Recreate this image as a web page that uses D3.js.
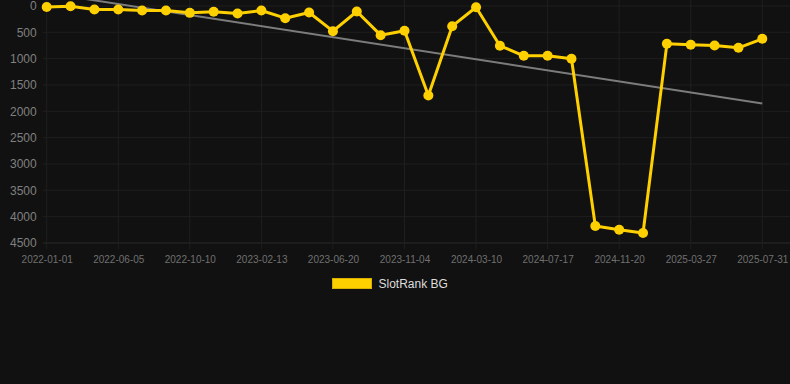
<!DOCTYPE html>
<html>
<head>
<meta charset="utf-8">
<script src="https://cdn.jsdelivr.net/npm/d3@7"></script>
<style>
    html, body { margin: 0; padding: 0; background: #111111; }
</style>
</head>
<body>
<script>
// Data
var dates = ["2022-01-01", "2022-02-21", "2022-04-14", "2022-06-05", "2022-07-17", "2022-08-28",
    "2022-10-10", "2022-11-21", "2023-01-02", "2023-02-13", "2023-03-31", "2023-05-05",
    "2023-06-20", "2023-08-04", "2023-09-19", "2023-11-04", "2023-12-19", "2024-01-24",
    "2024-03-10", "2024-04-21", "2024-06-04", "2024-07-17", "2024-08-28", "2024-10-09",
    "2024-11-20", "2025-01-01", "2025-02-13", "2025-03-27", "2025-05-07", "2025-06-19",
    "2025-07-31"];
var ranks = [20, 5, 66, 66, 85, 85, 130, 110, 142, 85, 231, 123, 478, 104, 554, 471,
    1698, 383, 23, 755, 945, 945, 1002, 4178, 4247, 4311, 718, 737, 750, 794, 623];
var yTicks = [0, 500, 1000, 1500, 2000, 2500, 3000, 3500, 4000, 4500];
var seriesName = "SlotRank BG";

// General Settings
var width = 790, height = 384,
plot = {left: 46.7, right: 762.3, top: 6, bottom: 243},
font = {family: "Arial, 'Liberation Sans', sans-serif"},
col = {bg: "#111111", grid: "#1f1f1f", axis: "#2b2b2b", tick: "#808080", xtick: "#707070",
       line: "#ffd000", trend: "#7c7c7c", legend: "#dddddd"};

var svg = d3.select("body")
    .append("svg")
        .attr("width", width)
        .attr("height", height)
        .style("display", "block")
        .style("background", col.bg);

var x = d3.scalePoint()
    .domain(dates)
    .range([plot.left, plot.right]);

var y = d3.scaleLinear()
    .domain([0, 4500])
    .range([plot.top, plot.bottom]);

var labelDates = dates.filter(function(d, i) { return i % 3 === 0; });

// horizontal grid
svg.append("g")
    .selectAll("line")
    .data(yTicks)
    .enter()
    .append("line")
        .attr("x1", plot.left - 4)
        .attr("x2", width)
        .attr("y1", function(d) { return y(d); })
        .attr("y2", function(d) { return y(d); })
        .attr("stroke", function(d) { return d === 4500 ? col.axis : col.grid; })
        .attr("stroke-width", 1);

// vertical grid
svg.append("g")
    .selectAll("line")
    .data(labelDates)
    .enter()
    .append("line")
        .attr("x1", function(d) { return x(d); })
        .attr("x2", function(d) { return x(d); })
        .attr("y1", 0)
        .attr("y2", plot.bottom + 6)
        .attr("stroke", col.grid)
        .attr("stroke-width", 1);

// Y axis labels
svg.append("g")
    .attr("transform", "translate(" + (plot.left - 10) + ",0)")
    .call(d3.axisLeft(y).tickValues(yTicks).tickFormat(d3.format("d")).tickSize(0).tickPadding(0))
    .call(function(g) { g.select(".domain").remove(); })
    .selectAll("text")
        .attr("fill", col.tick)
        .attr("font-family", font.family)
        .attr("font-size", "12px");

// X axis labels
svg.append("g")
    .attr("transform", "translate(0," + (plot.bottom + 13) + ")")
    .call(d3.axisBottom(x).tickValues(labelDates).tickSize(0).tickPadding(0))
    .call(function(g) { g.select(".domain").remove(); })
    .selectAll("text")
        .attr("fill", col.xtick)
        .attr("font-family", font.family)
        .attr("font-size", "10px");

// trend line (least squares)
var n = ranks.length,
    mx = d3.mean(ranks, function(d, i) { return i; }),
    my = d3.mean(ranks),
    slope = d3.sum(ranks, function(d, i) { return (i - mx) * (d - my); }) /
            d3.sum(ranks, function(d, i) { return (i - mx) * (i - mx); });

svg.append("line")
    .attr("x1", x(dates[0]))
    .attr("y1", y(my - slope * mx))
    .attr("x2", x(dates[n - 1]))
    .attr("y2", y(my + slope * (n - 1 - mx)))
    .attr("stroke", col.trend)
    .attr("stroke-width", 2);

// series line
var line = d3.line()
    .x(function(d, i) { return x(dates[i]); })
    .y(function(d) { return y(d); });

svg.append("path")
    .datum(ranks)
    .attr("d", line)
    .attr("fill", "none")
    .attr("stroke", col.line)
    .attr("stroke-width", 3)
    .attr("stroke-linejoin", "round");

svg.append("g")
    .selectAll("circle")
    .data(ranks)
    .enter()
    .append("circle")
        .attr("cx", function(d, i) { return x(dates[i]); })
        .attr("cy", function(d) { return y(d); })
        .attr("r", 5)
        .attr("fill", col.line);

// legend
var legend = svg.append("g");
legend.append("rect")
    .attr("x", 332.5)
    .attr("y", 278.5)
    .attr("width", 39)
    .attr("height", 10)
    .attr("fill", col.line)
    .attr("stroke", "#d8b000")
    .attr("stroke-width", 1);
legend.append("text")
    .attr("x", 378.5)
    .attr("y", 284)
    .attr("dy", "0.35em")
    .attr("fill", col.legend)
    .attr("font-family", font.family)
    .attr("font-size", "12px")
    .text(seriesName);
</script>
</body>
</html>
